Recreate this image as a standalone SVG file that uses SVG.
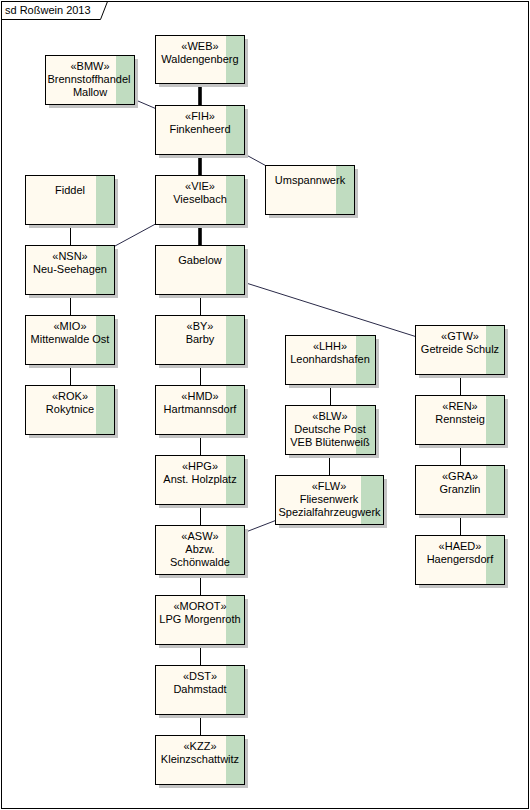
<svg xmlns="http://www.w3.org/2000/svg" width="530" height="810" viewBox="0 0 530 810">
<style>
.frame{fill:#fff;stroke:#000;stroke-width:1}
.sh{fill:#c4c4c4}
.bx{fill:#fffaef;stroke:none}
.gr{fill:#c0dcc0}
.bd{fill:none;stroke:#000;stroke-width:1}
text{font-family:"Liberation Sans",Arial,sans-serif;font-size:11px;fill:#000;text-anchor:middle}
.title{text-anchor:start}
.thick{stroke:#000;stroke-width:3.6;fill:none}
.thin{stroke:#000;stroke-width:1;fill:none}
.diag{stroke:#2a2a48;stroke-width:1;fill:none}
</style>
<rect class="frame" x="1.5" y="1.5" width="527" height="807"/>
<path class="thin" d="M1.5,19.5 H100.5 L107.5,1.5"/>
<text class="title" x="5" y="14">sd Roßwein 2013</text>

<g id="connectors">
<path class="thick" d="M200,84V105M200,154V175M200,224V245"/>
<path class="thin" d="M200.5,294V315M200.5,364V385M200.5,434V455M200.5,504V525M200.5,574V595M200.5,644V665M200.5,714V735"/>
<path class="thin" d="M70.5,224V245M70.5,294V315M70.5,364V385"/>
<path class="thin" d="M330.5,384V405M329.5,454V475"/>
<path class="thin" d="M460.5,374V395M460.5,444V465M460.5,514V535"/>
<path class="diag" d="M134.5,99.5L155.5,108.5"/>
<path class="diag" d="M244.5,154L265.5,165.5"/>
<path class="diag" d="M155.5,224L115,246"/>
<path class="diag" d="M244.5,282.5L415.5,336.5"/>
<path class="diag" d="M244.5,532.5L275.5,520.5"/>
</g>

<g id="WEB"><rect class="sh" x="159" y="39" width="89" height="48"/><rect class="bx" x="155.5" y="35.5" width="89" height="48"/><rect class="gr" x="226" y="36" width="18" height="47"/><rect class="bd" x="155.5" y="35.5" width="89" height="48"/><text x="200" y="50">«WEB»</text><text x="200" y="63">Waldengenberg</text></g>
<g id="BMW"><rect class="sh" x="49" y="59" width="89" height="49"/><rect class="bx" x="45.5" y="55.5" width="89" height="49"/><rect class="gr" x="116" y="56" width="18" height="48"/><rect class="bd" x="45.5" y="55.5" width="89" height="49"/><text x="90" y="70">«BMW»</text><text x="89" y="83">Brennstoffhandel</text><text x="90" y="96">Mallow</text></g>
<g id="FIH"><rect class="sh" x="159" y="109" width="89" height="49"/><rect class="bx" x="155.5" y="105.5" width="89" height="49"/><rect class="gr" x="226" y="106" width="18" height="48"/><rect class="bd" x="155.5" y="105.5" width="89" height="49"/><text x="200" y="120">«FIH»</text><text x="200" y="133">Finkenheerd</text></g>
<g id="UMS"><rect class="sh" x="269" y="169" width="89" height="49"/><rect class="bx" x="265.5" y="165.5" width="89" height="49"/><rect class="gr" x="336" y="166" width="18" height="48"/><rect class="bd" x="265.5" y="165.5" width="89" height="49"/><text x="310" y="184">Umspannwerk</text></g>
<g id="FID"><rect class="sh" x="29" y="179" width="89" height="49"/><rect class="bx" x="25.5" y="175.5" width="89" height="49"/><rect class="gr" x="96" y="176" width="18" height="48"/><rect class="bd" x="25.5" y="175.5" width="89" height="49"/><text x="70" y="194">Fiddel</text></g>
<g id="VIE"><rect class="sh" x="159" y="179" width="89" height="49"/><rect class="bx" x="155.5" y="175.5" width="89" height="49"/><rect class="gr" x="226" y="176" width="18" height="48"/><rect class="bd" x="155.5" y="175.5" width="89" height="49"/><text x="200" y="190">«VIE»</text><text x="200" y="203">Vieselbach</text></g>
<g id="NSN"><rect class="sh" x="29" y="249" width="89" height="49"/><rect class="bx" x="25.5" y="245.5" width="89" height="49"/><rect class="gr" x="96" y="246" width="18" height="48"/><rect class="bd" x="25.5" y="245.5" width="89" height="49"/><text x="70" y="260">«NSN»</text><text x="70" y="273">Neu-Seehagen</text></g>
<g id="GAB"><rect class="sh" x="159" y="249" width="89" height="49"/><rect class="bx" x="155.5" y="245.5" width="89" height="49"/><rect class="gr" x="226" y="246" width="18" height="48"/><rect class="bd" x="155.5" y="245.5" width="89" height="49"/><text x="200" y="264">Gabelow</text></g>
<g id="MIO"><rect class="sh" x="29" y="319" width="89" height="49"/><rect class="bx" x="25.5" y="315.5" width="89" height="49"/><rect class="gr" x="96" y="316" width="18" height="48"/><rect class="bd" x="25.5" y="315.5" width="89" height="49"/><text x="70" y="330">«MIO»</text><text x="70" y="343">Mittenwalde Ost</text></g>
<g id="ROK"><rect class="sh" x="29" y="389" width="89" height="49"/><rect class="bx" x="25.5" y="385.5" width="89" height="49"/><rect class="gr" x="96" y="386" width="18" height="48"/><rect class="bd" x="25.5" y="385.5" width="89" height="49"/><text x="70" y="400">«ROK»</text><text x="70" y="413">Rokytnice</text></g>
<g id="BY"><rect class="sh" x="159" y="319" width="89" height="49"/><rect class="bx" x="155.5" y="315.5" width="89" height="49"/><rect class="gr" x="226" y="316" width="18" height="48"/><rect class="bd" x="155.5" y="315.5" width="89" height="49"/><text x="200" y="330">«BY»</text><text x="200" y="343">Barby</text></g>
<g id="HMD"><rect class="sh" x="159" y="389" width="89" height="49"/><rect class="bx" x="155.5" y="385.5" width="89" height="49"/><rect class="gr" x="226" y="386" width="18" height="48"/><rect class="bd" x="155.5" y="385.5" width="89" height="49"/><text x="200" y="400">«HMD»</text><text x="200" y="413">Hartmannsdorf</text></g>
<g id="HPG"><rect class="sh" x="159" y="459" width="89" height="49"/><rect class="bx" x="155.5" y="455.5" width="89" height="49"/><rect class="gr" x="226" y="456" width="18" height="48"/><rect class="bd" x="155.5" y="455.5" width="89" height="49"/><text x="200" y="470">«HPG»</text><text x="200" y="483">Anst. Holzplatz</text></g>
<g id="ASW"><rect class="sh" x="159" y="529" width="89" height="49"/><rect class="bx" x="155.5" y="525.5" width="89" height="49"/><rect class="gr" x="226" y="526" width="18" height="48"/><rect class="bd" x="155.5" y="525.5" width="89" height="49"/><text x="200" y="540">«ASW»</text><text x="200" y="553">Abzw.</text><text x="200" y="566">Schönwalde</text></g>
<g id="MOROT"><rect class="sh" x="159" y="599" width="89" height="49"/><rect class="bx" x="155.5" y="595.5" width="89" height="49"/><rect class="gr" x="226" y="596" width="18" height="48"/><rect class="bd" x="155.5" y="595.5" width="89" height="49"/><text x="200" y="610">«MOROT»</text><text x="200" y="623">LPG Morgenroth</text></g>
<g id="DST"><rect class="sh" x="159" y="669" width="89" height="49"/><rect class="bx" x="155.5" y="665.5" width="89" height="49"/><rect class="gr" x="226" y="666" width="18" height="48"/><rect class="bd" x="155.5" y="665.5" width="89" height="49"/><text x="200" y="680">«DST»</text><text x="200" y="693">Dahmstadt</text></g>
<g id="KZZ"><rect class="sh" x="159" y="739" width="89" height="49"/><rect class="bx" x="155.5" y="735.5" width="89" height="49"/><rect class="gr" x="226" y="736" width="18" height="48"/><rect class="bd" x="155.5" y="735.5" width="89" height="49"/><text x="200" y="750">«KZZ»</text><text x="200" y="763">Kleinzschattwitz</text></g>
<g id="LHH"><rect class="sh" x="289" y="339" width="90" height="49"/><rect class="bx" x="285.5" y="335.5" width="90" height="49"/><rect class="gr" x="356" y="336" width="19" height="48"/><rect class="bd" x="285.5" y="335.5" width="90" height="49"/><text x="330" y="350">«LHH»</text><text x="330" y="363">Leonhardshafen</text></g>
<g id="BLW"><rect class="sh" x="289" y="409" width="90" height="49"/><rect class="bx" x="285.5" y="405.5" width="90" height="49"/><rect class="gr" x="356" y="406" width="19" height="48"/><rect class="bd" x="285.5" y="405.5" width="90" height="49"/><text x="330" y="420">«BLW»</text><text x="330" y="433">Deutsche Post</text><text x="330" y="446">VEB Blütenweiß</text></g>
<g id="FLW"><rect class="sh" x="279" y="479" width="108" height="49"/><rect class="bx" x="275.5" y="475.5" width="108" height="49"/><rect class="gr" x="361" y="476" width="22" height="48"/><rect class="bd" x="275.5" y="475.5" width="108" height="49"/><text x="329" y="490">«FLW»</text><text x="329" y="503">Fliesenwerk</text><text x="329.5" y="516">Spezialfahrzeugwerk</text></g>
<g id="GTW"><rect class="sh" x="419" y="329" width="89" height="49"/><rect class="bx" x="415.5" y="325.5" width="89" height="49"/><rect class="gr" x="486" y="326" width="18" height="48"/><rect class="bd" x="415.5" y="325.5" width="89" height="49"/><text x="460" y="340">«GTW»</text><text x="460" y="353">Getreide Schulz</text></g>
<g id="REN"><rect class="sh" x="419" y="399" width="89" height="49"/><rect class="bx" x="415.5" y="395.5" width="89" height="49"/><rect class="gr" x="486" y="396" width="18" height="48"/><rect class="bd" x="415.5" y="395.5" width="89" height="49"/><text x="460" y="410">«REN»</text><text x="460" y="423">Rennsteig</text></g>
<g id="GRA"><rect class="sh" x="419" y="469" width="89" height="49"/><rect class="bx" x="415.5" y="465.5" width="89" height="49"/><rect class="gr" x="486" y="466" width="18" height="48"/><rect class="bd" x="415.5" y="465.5" width="89" height="49"/><text x="460" y="480">«GRA»</text><text x="460" y="493">Granzlin</text></g>
<g id="HAED"><rect class="sh" x="419" y="539" width="89" height="49"/><rect class="bx" x="415.5" y="535.5" width="89" height="49"/><rect class="gr" x="486" y="536" width="18" height="48"/><rect class="bd" x="415.5" y="535.5" width="89" height="49"/><text x="460" y="550">«HAED»</text><text x="460" y="563">Haengersdorf</text></g>
</svg>
